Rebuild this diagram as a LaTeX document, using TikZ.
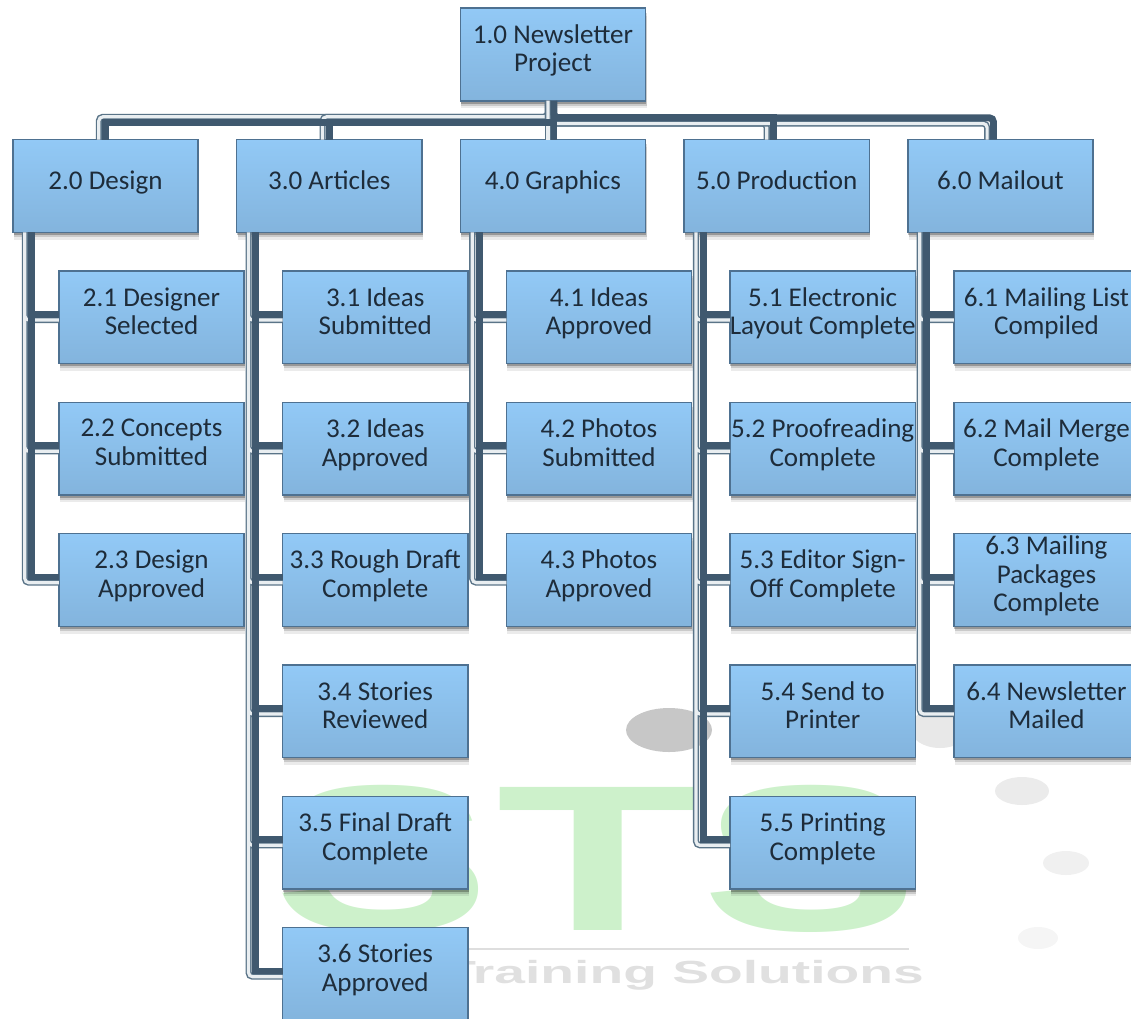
\documentclass[tikz,border=0pt]{standalone}
\usepackage{fontspec}
\setmainfont{Carlito}
\setsansfont{Liberation Sans}
\usepackage{xcolor}
\usetikzlibrary{positioning}
\usetikzlibrary{shadows}

\definecolor{boxtop}{HTML}{92C9F6}
\definecolor{boxbot}{HTML}{83B4DD}
\definecolor{boxedge}{HTML}{4E7191}
\definecolor{boxtext}{HTML}{1E2C3A}
\definecolor{linkdark}{HTML}{40596F}
\definecolor{linkedge}{HTML}{5A7488}
\definecolor{linkpale}{HTML}{E9EEF1}
\definecolor{wmgreen}{HTML}{CDF1CB}

\begin{document}
\begin{tikzpicture}[x=0.75pt,y=-0.75pt]
  \tikzset{
box/.style={draw=boxedge, line width=1.1pt,
    top color=boxtop, bottom color=boxbot,
    drop shadow={shadow xshift=0.75pt,shadow yshift=-5.5pt,fill=black,opacity=0.08},
    drop shadow={shadow xshift=0.75pt,shadow yshift=-3.5pt,fill=black,opacity=0.14},
    drop shadow={shadow xshift=0.5pt,shadow yshift=-2pt,fill=black,opacity=0.25},
    minimum width=139pt, minimum height=69.5pt,
    inner sep=0pt, outer sep=0pt, text=boxtext,
    font=\fontsize{20.3}{21.4}\selectfont,
    execute at begin node=\strut,
    execute at end node={\rule[-9.4pt]{0pt}{1pt}},
    align=center},
linkdark/.style={draw=linkdark, line width=5.2pt},
linkthin/.style={draw=linkedge, line width=1.1pt, double=linkpale,
    double distance=2.4pt, rounded corners=3pt},
wmletter/.style={text=wmgreen, inner sep=0pt, font=\sffamily\bfseries\fontsize{156}{156}\selectfont},
}
  \clip (0,0) rectangle (1131,1018);

  % watermark behind the chart
  \fill [black!22] (669,730) ellipse [x radius=43, y radius=22];
  \fill [black!9] (940,728) ellipse [x radius=30, y radius=20];
  \fill [black!8] (1022,791) ellipse [x radius=27, y radius=14];
  \fill [black!6] (1066,863) ellipse [x radius=23, y radius=12];
  \fill [black!4] (1038,938) ellipse [x radius=20, y radius=11];
  \node [wmletter] (wms) at (382,859) {\scalebox{1.57}[1]{S}};
  \node [wmletter] (wmt) at (598,859) {\scalebox{1.6}[1]{T}};
  \node [wmletter] (wmz) at (810,859) {\scalebox{1.57}[1]{S}};
  \node [anchor=east, inner sep=0pt, text=black!12] (wmtext) at (924,975)
    {\sffamily\bfseries\fontsize{24}{24}\selectfont\scalebox{1.725}[1]{Training Solutions}};
  \coordinate (wmrule) at (909,949);
  \draw [black!13, line width=1pt] (wms.center |- wmrule) -- (wmrule);

  % Nodes
  \node [box] (top) at (553,54.5) {1.0 Newsletter\\Project};
  \node [box] (design) at (105.5,186) {2.0 Design};
  \node [box, right=28.8pt of design] (articles) {3.0 Articles};
  \node [box, right=28.8pt of articles] (graphics) {4.0 Graphics};
  \node [box, right=28.8pt of graphics] (production) {5.0 Production};
  \node [box, right=28.8pt of production] (mailout) {6.0 Mailout};

  \node [box, below=29pt of design, xshift=34.5pt] (d1) {2.1 Designer\\Selected};
  \node [box, below=29pt of d1] (d2) {2.2 Concepts\\Submitted};
  \node [box, below=29pt of d2] (d3) {2.3 Design\\Approved};

  \node [box, below=29pt of articles, xshift=34.5pt] (a1) {3.1 Ideas\\Submitted};
  \node [box, below=29pt of a1] (a2) {3.2 Ideas\\Approved};
  \node [box, below=29pt of a2] (a3) {3.3 Rough Draft\\Complete};
  \node [box, below=29pt of a3] (a4) {3.4 Stories\\Reviewed};
  \node [box, below=29pt of a4] (a5) {3.5 Final Draft\\Complete};
  \node [box, below=29pt of a5] (a6) {3.6 Stories\\Approved};

  \node [box, below=29pt of graphics, xshift=34.5pt] (g1) {4.1 Ideas\\Approved};
  \node [box, below=29pt of g1] (g2) {4.2 Photos\\Submitted};
  \node [box, below=29pt of g2] (g3) {4.3 Photos\\Approved};

  \node [box, below=29pt of production, xshift=34.5pt] (p1) {5.1 Electronic\\Layout Complete};
  \node [box, below=29pt of p1] (p2) {5.2 Proofreading\\Complete};
  \node [box, below=29pt of p2] (p3) {5.3 Editor Sign-\\Off Complete};
  \node [box, below=29pt of p3] (p4) {5.4 Send to\\Printer};
  \node [box, below=29pt of p4] (p5) {5.5 Printing\\Complete};

  \node [box, below=29pt of mailout, xshift=34.5pt] (m1) {6.1 Mailing List\\Compiled};
  \node [box, below=29pt of m1] (m2) {6.2 Mail Merge\\Complete};
  \node [box, below=29pt of m2] (m3) {6.3 Mailing\\Packages\\Complete};
  \node [box, below=29pt of m3] (m4) {6.4 Newsletter\\Mailed};

  % Bus under the root, pale line first
  \coordinate (toppale) at ([xshift=-3.75pt]top.south);
  \coordinate (topdark) at ([xshift=0.75pt]top.south);
  \draw [linkthin] (toppale) -- (toppale |- graphics.north);
  \draw [linkthin] (toppale) -- ++(0,-12pt) -| ([xshift=-5pt]design.north);
  \draw [linkthin] (toppale) -- ++(0,-12pt) -| ([xshift=-5pt]articles.north);
  \draw [linkthin] (toppale) -- ++(0,-17pt) -| ([xshift=-7.5pt]production.north);
  \draw [linkthin] (toppale) -- ++(0,-17pt) -| ([xshift=-10pt]mailout.north);
  \draw [linkdark] (topdark) -- (topdark |- graphics.north);
  \draw [linkdark] (topdark) -- ++(0,-16.5pt) -| (design.north);
  \draw [linkdark] (topdark) -- ++(0,-16.5pt) -| (articles.north);
  \draw [linkdark] (topdark) -- ++(0,-12.75pt) -| ([xshift=-2.25pt]production.north);
  \draw [linkdark, rounded corners=3pt] (topdark) -- ++(0,-12.75pt) -| ([xshift=-5.25pt]mailout.north);

  % Columns
  \draw [linkthin] ([xshift=9pt]design.south west) |- ([yshift=-2pt]d1.west)
    ([xshift=9pt]design.south west) |- ([yshift=-2pt]d2.west)
    ([xshift=9pt]design.south west) |- ([yshift=-2pt]d3.west);
  \draw [linkdark] ([xshift=14.25pt]design.south west) |- ([yshift=2.25pt]d1.west)
    ([xshift=14.25pt]design.south west) |- ([yshift=2.25pt]d2.west)
    ([xshift=14.25pt]design.south west) |- ([yshift=2.25pt]d3.west);

  \draw [linkthin] ([xshift=9pt]articles.south west) |- ([yshift=-2pt]a1.west)
    ([xshift=9pt]articles.south west) |- ([yshift=-2pt]a2.west)
    ([xshift=9pt]articles.south west) |- ([yshift=-2pt]a3.west)
    ([xshift=9pt]articles.south west) |- ([yshift=-2pt]a4.west)
    ([xshift=9pt]articles.south west) |- ([yshift=-2pt]a5.west)
    ([xshift=9pt]articles.south west) |- ([yshift=-2pt]a6.west);
  \draw [linkdark] ([xshift=14.25pt]articles.south west) |- ([yshift=2.25pt]a1.west)
    ([xshift=14.25pt]articles.south west) |- ([yshift=2.25pt]a2.west)
    ([xshift=14.25pt]articles.south west) |- ([yshift=2.25pt]a3.west)
    ([xshift=14.25pt]articles.south west) |- ([yshift=2.25pt]a4.west)
    ([xshift=14.25pt]articles.south west) |- ([yshift=2.25pt]a5.west)
    ([xshift=14.25pt]articles.south west) |- ([yshift=2.25pt]a6.west);

  \draw [linkthin] ([xshift=9pt]graphics.south west) |- ([yshift=-2pt]g1.west)
    ([xshift=9pt]graphics.south west) |- ([yshift=-2pt]g2.west)
    ([xshift=9pt]graphics.south west) |- ([yshift=-2pt]g3.west);
  \draw [linkdark] ([xshift=14.25pt]graphics.south west) |- ([yshift=2.25pt]g1.west)
    ([xshift=14.25pt]graphics.south west) |- ([yshift=2.25pt]g2.west)
    ([xshift=14.25pt]graphics.south west) |- ([yshift=2.25pt]g3.west);

  \draw [linkthin] ([xshift=9pt]production.south west) |- ([yshift=-2pt]p1.west)
    ([xshift=9pt]production.south west) |- ([yshift=-2pt]p2.west)
    ([xshift=9pt]production.south west) |- ([yshift=-2pt]p3.west)
    ([xshift=9pt]production.south west) |- ([yshift=-2pt]p4.west)
    ([xshift=9pt]production.south west) |- ([yshift=-2pt]p5.west);
  \draw [linkdark] ([xshift=14.25pt]production.south west) |- ([yshift=2.25pt]p1.west)
    ([xshift=14.25pt]production.south west) |- ([yshift=2.25pt]p2.west)
    ([xshift=14.25pt]production.south west) |- ([yshift=2.25pt]p3.west)
    ([xshift=14.25pt]production.south west) |- ([yshift=2.25pt]p4.west)
    ([xshift=14.25pt]production.south west) |- ([yshift=2.25pt]p5.west);

  \draw [linkthin] ([xshift=9pt]mailout.south west) |- ([yshift=-2pt]m1.west)
    ([xshift=9pt]mailout.south west) |- ([yshift=-2pt]m2.west)
    ([xshift=9pt]mailout.south west) |- ([yshift=-2pt]m3.west)
    ([xshift=9pt]mailout.south west) |- ([yshift=-2pt]m4.west);
  \draw [linkdark] ([xshift=14.25pt]mailout.south west) |- ([yshift=2.25pt]m1.west)
    ([xshift=14.25pt]mailout.south west) |- ([yshift=2.25pt]m2.west)
    ([xshift=14.25pt]mailout.south west) |- ([yshift=2.25pt]m3.west)
    ([xshift=14.25pt]mailout.south west) |- ([yshift=2.25pt]m4.west);
\end{tikzpicture}
\end{document}
